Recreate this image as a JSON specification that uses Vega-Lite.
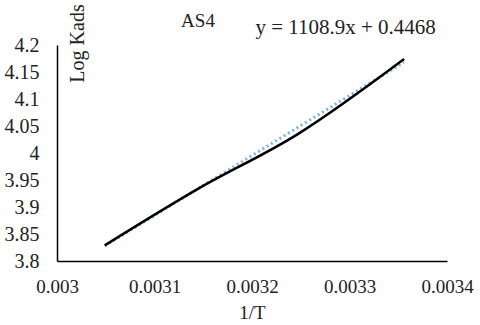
{
  "$schema": "https://vega.github.io/schema/vega-lite/v6.json",
  "width": 390,
  "height": 216,
  "autosize": "none",
  "padding": {"left": 57, "top": 45, "right": 33, "bottom": 64},
  "background": "white",
  "config": {"view": {"stroke": null}, "font": "Liberation Serif", "axis": {"labelOverlap": false}},
  "datasets": {
    "obs": [
      {"invT": 0.003049, "logK": 3.829},
      {"invT": 0.003145, "logK": 3.934},
      {"invT": 0.003247, "logK": 4.035},
      {"invT": 0.003356, "logK": 4.174}
    ],
    "trend": [
      {"invT": 0.003049, "logK": 3.8279},
      {"invT": 0.003356, "logK": 4.1683}
    ],
    "notes": [
      {"invT": 0.003296, "logK": 4.231, "label": "y = 1108.9x + 0.4468", "size": "eq"},
      {"invT": 0.0031446, "logK": 4.2444, "label": "AS4", "size": "title"}
    ]
  },
  "encoding": {
    "x": {"field": "invT", "type": "quantitative", "scale": {"domain": [0.003, 0.0034]},
      "axis": {"title": "1/T", "values": [0.003, 0.0031, 0.0032, 0.0033, 0.0034], "format": "~g", "grid": false, "ticks": false, "domainColor": "#000000", "domainWidth": 1.5, "labelFont": "Liberation Serif", "labelFontSize": 19, "labelColor": "#222222", "labelPadding": 16, "labelOverlap": false, "titleFont": "Liberation Serif", "titleFontSize": 19, "titleFontWeight": "normal", "titleColor": "#222222", "titlePadding": 7, "labelFlush": false}},
    "y": {"field": "logK", "type": "quantitative", "scale": {"domain": [3.8, 4.2], "zero": false},
      "axis": {"title": "Log Kads", "values": [3.8, 3.85, 3.9, 3.95, 4, 4.05, 4.1, 4.15, 4.2], "format": "~g", "grid": false, "ticks": false, "domainColor": "#000000", "domainWidth": 1.5, "labelFont": "Liberation Serif", "labelFontSize": 20, "labelColor": "#222222", "labelPadding": 18, "labelOverlap": false, "titleFont": "Liberation Serif", "titleFontSize": 20, "titleFontWeight": "normal", "titleColor": "#222222", "titleX": 20, "titleY": -2, "titleAngle": 270, "titleAlign": "center", "titleBaseline": "middle", "labelFlush": false}}
  },
  "layer": [
    {
      "data": {"name": "trend"},
      "mark": {"type": "line", "color": "#7fb2e5", "strokeWidth": 3, "strokeDash": [2, 3]}
    },
    {
      "data": {"name": "obs"},
      "mark": {"type": "line", "color": "#000000", "strokeWidth": 2.5, "interpolate": "catmull-rom"}
    },
    {
      "data": {"name": "notes"},
      "mark": {"type": "text", "font": "Liberation Serif", "color": "#222222", "align": "center", "baseline": "middle"},
      "encoding": {
        "text": {"field": "label"},
        "size": {"field": "size", "type": "nominal", "scale": {"domain": ["eq", "title"], "range": [21, 19]}, "legend": null}
      }
    }
  ]
}
